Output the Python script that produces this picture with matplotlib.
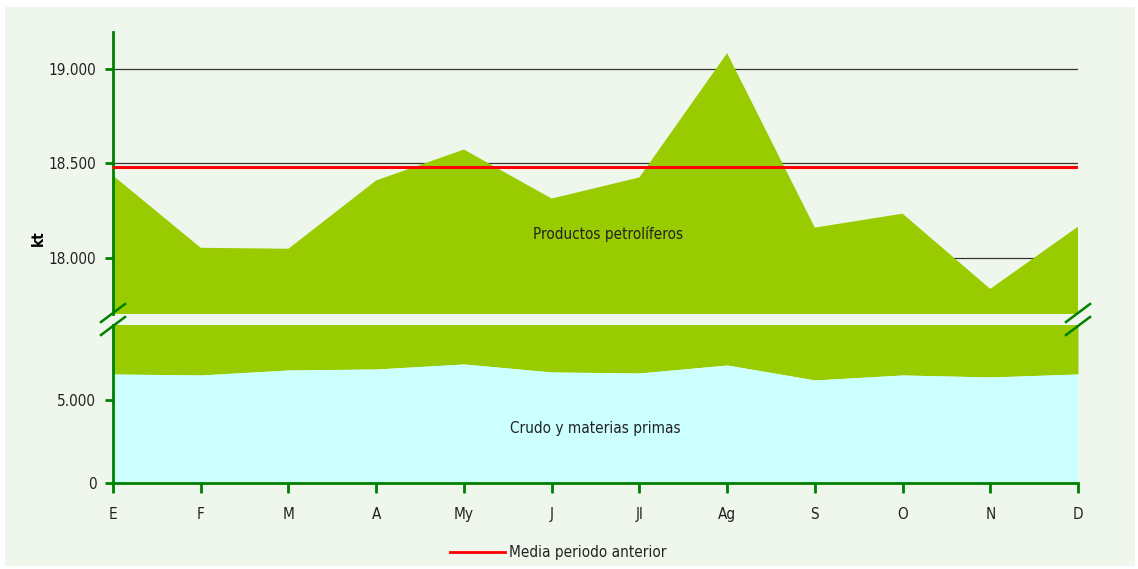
import numpy as np
from matplotlib.figure import Figure
from matplotlib.backends.backend_agg import FigureCanvasAgg as FigureCanvas
from matplotlib.patches import Rectangle
from matplotlib.lines import Line2D
from matplotlib.ticker import FuncFormatter

# data (kt)
months = ["E", "F", "M", "A", "My", "J", "Jl", "Ag", "S", "O", "N", "D"]
crudo = [6566, 6506, 6807, 6867, 7169, 6687, 6627, 7108, 6205, 6506, 6386, 6566]
total = [18436, 18053, 18048, 18410, 18574, 18314, 18426, 19085, 18160, 18234, 17835, 18165]
media_anterior = 18479

W, H = 1138, 569
fig = Figure(figsize=(W / 100, H / 100), dpi=100)
canvas = FigureCanvas(fig)
fig.patch.set_facecolor("white")

bg = "#eff7ec"
green = "#99cc00"
cyan = "#ccffff"
axis_green = "#008000"
txt = "#222222"
font = dict(family="DejaVu Sans", stretch="condensed")

fig.patches.append(Rectangle((5 / W, 3 / H), 1130 / W, 559 / H, transform=fig.transFigure,
                             facecolor=bg, edgecolor="none", zorder=-10))


def px_axes(left, top, right, bottom):
    return fig.add_axes([left / W, 1 - bottom / H, (right - left) / W, (bottom - top) / H])


x = np.arange(len(months))
fmt = FuncFormatter(lambda v, p: f"{int(v):,}".replace(",", "."))

# two panels (broken y axis)
ax_top = px_axes(113, 32, 1078, 314)
ax_low = px_axes(113, 325, 1078, 483)

for ax in (ax_top, ax_low):
    ax.set_facecolor("none")
    ax.set_xlim(0, len(months) - 1)
    for s in ("top", "right"):
        ax.spines[s].set_visible(False)
    ax.spines["left"].set_color(axis_green)
    ax.spines["left"].set_linewidth(2)
    ax.tick_params(axis="y", colors=axis_green, width=2, length=6, labelcolor=txt,
                   labelsize=11, pad=6)
    ax.yaxis.set_major_formatter(fmt)
    ax.grid(axis="y", color="#333333", linewidth=0.9, zorder=0)
    ax.set_axisbelow(True)

ax_top.fill_between(x, 0, total, color=green, linewidth=0, zorder=2)
ax_top.axhline(media_anterior, color="red", linewidth=2.2, zorder=3)
ax_top.set_ylim(17702, 19197)
ax_top.set_yticks([18000, 18500, 19000])
ax_top.spines["bottom"].set_visible(False)
ax_top.set_xticks([])
ax_top.text(5.64, 18128, "Productos petrolíferos", ha="center", va="center",
            fontsize=11, color=txt, zorder=4, **font)
ax_top.set_ylabel("kt", fontsize=11, fontweight="bold", **font)
ax_top.yaxis.set_label_coords(-0.07, 0.27)

ax_low.fill_between(x, crudo, total, color=green, linewidth=0, zorder=2)
ax_low.fill_between(x, 0, crudo, color=cyan, linewidth=0, zorder=2)
ax_low.set_ylim(0, 9518)
ax_low.set_yticks([0, 5000])
ax_low.spines["bottom"].set_color(axis_green)
ax_low.spines["bottom"].set_linewidth(2)
ax_low.spines["bottom"].set_zorder(5)
ax_low.spines["left"].set_zorder(5)
ax_low.set_xticks(x)
ax_low.set_xticklabels(months)
ax_low.tick_params(axis="x", colors=axis_green, width=2, length=7, labelcolor=txt,
                   labelsize=11, pad=10)
ax_low.text(5.5, 3253, "Crudo y materias primas", ha="center", va="center",
            fontsize=11, color=txt, zorder=4, **font)

for ax in (ax_top, ax_low):
    for lbl in ax.get_yticklabels() + ax.get_xticklabels():
        lbl.set_stretch("condensed")

# break marks
for xb in (113, 1078):
    for yb in (313, 326):
        fig.add_artist(Line2D([(xb - 12) / W, (xb + 12) / W],
                              [1 - (yb + 9) / H, 1 - (yb - 9) / H],
                              color=axis_green, linewidth=1.8))

# legend
fig.add_artist(Line2D([450 / W, 505 / W], [1 - 552 / H, 1 - 552 / H], color="red", linewidth=2))
fig.text(509 / W, 1 - 553 / H, "Media periodo anterior", ha="left", va="center",
         fontsize=11, color=txt, **font)

fig.savefig("out.png", dpi=100, facecolor=fig.get_facecolor())
